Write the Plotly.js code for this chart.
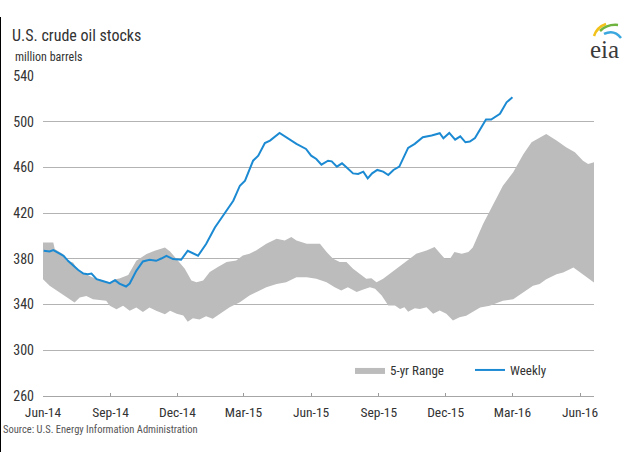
<!DOCTYPE html>
<html>
<head>
<meta charset="utf-8">
<script src="https://cdn.plot.ly/plotly-3.0.1.min.js"></script>
<style>html,body{margin:0;padding:0;background:#fff;}#chart{width:630px;height:460px;}</style>
</head>
<body>
<div id="chart"></div>
<script>
// Weekly U.S. crude oil stocks (million barrels)
var weeklyDates = ['2014-06-02','2014-06-10','2014-06-15','2014-06-22','2014-06-29','2014-07-05','2014-07-12','2014-07-19','2014-07-26','2014-08-01',
  '2014-08-06','2014-08-13','2014-08-20','2014-08-31','2014-09-07','2014-09-13','2014-09-22','2014-09-27','2014-10-06','2014-10-15',
  '2014-10-24','2014-11-02','2014-11-09','2014-11-16','2014-11-25','2014-12-06','2014-12-15','2014-12-29','2015-01-09','2015-01-21',
  '2015-02-01','2015-02-15','2015-02-24','2015-03-03','2015-03-14','2015-03-21','2015-03-30','2015-04-06','2015-04-19','2015-04-29',
  '2015-05-12','2015-05-25','2015-06-01','2015-06-08','2015-06-15','2015-06-24','2015-06-29','2015-07-06','2015-07-13','2015-07-19',
  '2015-07-28','2015-08-04','2015-08-11','2015-08-17','2015-08-23','2015-08-30','2015-09-07','2015-09-14','2015-09-21','2015-09-29',
  '2015-10-05','2015-10-11','2015-10-20','2015-10-31','2015-11-12','2015-11-23','2015-11-28','2015-12-06','2015-12-14','2015-12-21',
  '2015-12-28','2016-01-03','2016-01-10','2016-01-17','2016-01-25','2016-02-01','2016-02-13','2016-02-22','2016-03-01'];
var weeklyValues = [387,386.5,387.7,385,382.7,378.3,374,370.2,367.2,366.6,
  367.2,362.2,360.8,358.7,361.4,358.4,355.8,358.4,369.5,377.7,
  379.2,378.3,380.3,382.7,379.8,379.2,387.1,382.7,393,407.5,
  417.7,430.9,444,448.4,465.9,470.3,481.4,483.5,490.2,485.8,
  480.6,476.2,470.3,467.4,462.4,465.9,465.3,460.7,463.6,460.1,
  454.8,454.3,456.3,450.4,454.8,457.8,456.3,453.4,457.8,460.7,
  468.9,477.1,480.6,486.4,487.9,489.9,485.5,490.2,484.3,487.2,
  482,482.6,485.8,493.6,501.9,501.9,506.9,517,521.4];

// 5-year range: upper edge
var rangeHighDates = ['2014-06-01','2014-06-15','2014-06-17','2014-06-28','2014-07-03','2014-07-12','2014-07-19','2014-07-30','2014-08-08','2014-08-31',
  '2014-09-07','2014-09-13','2014-09-25','2014-10-06','2014-10-20','2014-10-31','2014-11-14','2014-11-21','2014-11-30','2014-12-11',
  '2014-12-20','2014-12-27','2015-01-05','2015-01-14','2015-01-25','2015-02-06','2015-02-19','2015-02-28','2015-03-09','2015-03-18',
  '2015-04-01','2015-04-15','2015-04-26','2015-05-05','2015-05-12','2015-05-26','2015-06-08','2015-06-13','2015-06-22','2015-07-01',
  '2015-07-10','2015-07-19','2015-07-28','2015-08-06','2015-08-15','2015-08-22','2015-08-29','2015-09-07','2015-09-16','2015-09-25',
  '2015-10-09','2015-10-22','2015-11-05','2015-11-16','2015-11-30','2015-12-07','2015-12-13','2015-12-23','2016-01-01','2016-01-07',
  '2016-01-21','2016-02-04','2016-02-17','2016-03-02','2016-03-16','2016-03-27','2016-04-07','2016-04-16','2016-04-30','2016-05-13',
  '2016-05-25','2016-06-05','2016-06-12','2016-06-20'];
var rangeHigh = [394.3,394.3,388.6,384.2,378.3,376.8,369.5,366.6,363.7,359.3,
  362.2,362.8,365.8,378.3,384.2,387.1,390,386.5,379.8,371.3,
  361,359.6,361,368.4,372.8,377.2,378.6,383,384.4,387.3,
  393.2,397.6,396.1,399.1,396.1,393.2,393.2,393.2,385.9,380,
  377.2,377.2,371.3,366.9,362.5,363.1,359.6,362.5,366.9,371.3,
  378.6,384.4,387.3,390.3,380,380,385.9,384.4,385.9,390,
  410.4,428,444,455.7,471.8,482,486.4,489.3,483.5,477.6,
  473.2,465.9,463,464.5];

// 5-year range: lower edge
var rangeLowDates = ['2014-06-01','2014-06-10','2014-06-24','2014-07-07','2014-07-14','2014-07-21','2014-07-30','2014-08-08','2014-08-26','2014-08-31',
  '2014-09-09','2014-09-18','2014-09-27','2014-10-06','2014-10-15','2014-10-24','2014-11-02','2014-11-14','2014-11-21','2014-11-30',
  '2014-12-09','2014-12-15','2014-12-22','2014-12-31','2015-01-09','2015-01-18','2015-01-28','2015-02-10','2015-02-24','2015-03-09',
  '2015-03-23','2015-04-01','2015-04-15','2015-04-28','2015-05-12','2015-05-26','2015-06-08','2015-06-22','2015-07-03','2015-07-12',
  '2015-07-21','2015-08-02','2015-08-10','2015-08-20','2015-08-27','2015-09-05','2015-09-14','2015-09-23','2015-09-30','2015-10-06',
  '2015-10-11','2015-10-20','2015-10-27','2015-11-05','2015-11-14','2015-11-23','2015-12-02','2015-12-11','2015-12-20','2015-12-29',
  '2016-01-03','2016-01-17','2016-01-30','2016-02-17','2016-03-02','2016-03-16','2016-03-29','2016-04-07','2016-04-16','2016-04-30',
  '2016-05-09','2016-05-23','2016-06-05','2016-06-20'];
var rangeLow = [362.2,356.4,350.5,344.7,341.8,346.1,347.6,344.7,343.3,338.9,
  336,338.9,334.5,337.4,333.6,337.4,334.5,331.6,334.5,332,
  330.4,325,328,326.9,329.8,327.5,331.9,337.7,342.1,347.9,
  352.3,355.2,358.1,359.6,364,364,362.5,359.6,355.2,352.3,
  355.2,350.9,353,355.2,353.8,347.9,339.1,339.1,336.2,337.7,
  333.8,336.8,336.2,337.7,331.9,334.8,331.9,326,329,330.3,
  331.6,337.4,338.9,343.3,344.7,350.5,356.4,357.9,362.2,366.6,
  368,372.4,366.6,359.3];

var seriesNames = ['5-yr Range', 'Weekly'];
var titleText = 'U.S. crude oil stocks';
var unitText = 'million barrels';
var sourceText = 'Source: U.S. Energy Information Administration';

var NARROW = "'Liberation Sans Narrow', 'Arial Narrow', 'Roboto Condensed', 'Liberation Sans', sans-serif";
var TXT = '#333333';
var W = 630, H = 460, ML = 43, MR = 36, MT = 76, MB = 64;
var PW = W - ML - MR, PH = H - MT - MB;
function px(X) { return (X - ML) / PW; }
function py(Y) { return (H - MB - Y) / PH; }

var bandX = rangeHighDates.concat(rangeLowDates.slice().reverse());
var bandY = rangeHigh.concat(rangeLow.slice().reverse());

var traces = [
  {
    type: 'scatter', mode: 'lines', name: seriesNames[0],
    x: bandX, y: bandY, fill: 'toself', fillcolor: '#bcbcbc',
    line: {width: 0, color: '#bcbcbc'}, hoverinfo: 'skip'
  },
  {
    type: 'scatter', mode: 'lines', name: seriesNames[1],
    x: weeklyDates, y: weeklyValues,
    line: {width: 2, color: '#1b8ad3'}, hoverinfo: 'skip'
  }
];

function arc(d, color) {
  return {type: 'path', xref: 'paper', yref: 'paper', path: d, line: {color: color, width: 2.5}};
}
function pth(pts) {
  return pts.map(function (p) {
    return typeof p === 'string' ? p : px(p[0]).toFixed(4) + ',' + py(p[1]).toFixed(4);
  }).join(' ');
}

var layout = {
  width: W, height: H,
  margin: {l: ML, r: MR, t: MT, b: MB, pad: 0},
  paper_bgcolor: '#ffffff', plot_bgcolor: '#ffffff',
  font: {family: NARROW, color: TXT, size: 14},
  title: {
    text: titleText, font: {family: NARROW, size: 16, color: TXT},
    xref: 'container', yref: 'container', x: 12 / W, xanchor: 'left', y: 1 - 35 / H, yanchor: 'middle'
  },
  showlegend: true,
  legend: {
    orientation: 'h', x: px(350), xanchor: 'left', y: py(370), yanchor: 'middle',
    bgcolor: 'rgba(0,0,0,0)', font: {family: NARROW, size: 13, color: TXT},
    entrywidth: 75, entrywidthmode: 'pixels', traceorder: 'normal'
  },
  xaxis: {
    type: 'date', range: ['2014-06-01', '2016-06-20'],
    tick0: '2014-06-01', dtick: 'M3', tickformat: '%b-%y',
    ticks: 'inside', ticklen: 3, tickcolor: '#9a9a9a', tickwidth: 1,
    showgrid: false, showline: true, linecolor: '#a6a6a6', linewidth: 1,
    zeroline: false, ticklabelstandoff: 4,
    tickfont: {family: NARROW, size: 13.5, color: TXT},
    fixedrange: true
  },
  yaxis: {
    range: [260, 540], dtick: 40, tick0: 260,
    showgrid: true, gridcolor: '#b3b3b3', gridwidth: 1,
    showline: false, zeroline: false, ticks: '', ticklabelstandoff: 8,
    tickfont: {family: NARROW, size: 14, color: TXT},
    fixedrange: true
  },
  annotations: [
    {text: unitText, xref: 'paper', yref: 'paper', x: px(13), y: py(57), xanchor: 'left', yanchor: 'middle',
     showarrow: false, font: {family: NARROW, size: 12, color: TXT}},
    {text: sourceText, xref: 'paper', yref: 'paper', x: px(1), y: py(429), xanchor: 'left', yanchor: 'middle',
     showarrow: false, font: {family: NARROW, size: 10.5, color: '#555555'}},
    {text: 'eia', xref: 'paper', yref: 'paper', x: px(604), y: py(50), xanchor: 'center', yanchor: 'middle',
     showarrow: false, font: {family: "'Liberation Serif', 'DejaVu Serif', serif", size: 25, color: '#3a3a3a'}}
  ],
  shapes: [
    {type: 'line', xref: 'paper', yref: 'paper', x0: px(0.5), x1: px(0.5), y0: py(17), y1: py(452),
     line: {color: '#000000', width: 1}},
    arc(pth(['M', [594, 36], 'Q', [597, 27], [606, 24]]), '#f2c21b'),
    arc(pth(['M', [600, 31], 'Q', [607, 24], [618, 25]]), '#6fb43f'),
    arc(pth(['M', [604, 34], 'Q', [614, 29], [621, 38]]), '#3aa7df')
  ]
};

Plotly.newPlot('chart', traces, layout, {staticPlot: true, displayModeBar: false});
</script>
</body>
</html>
